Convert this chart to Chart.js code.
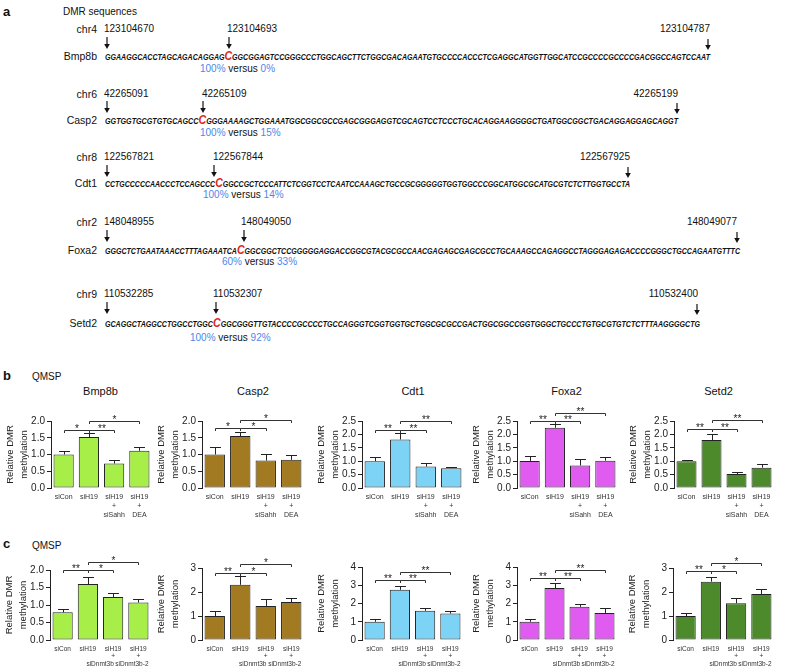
<!DOCTYPE html>
<html><head><meta charset="utf-8">
<script src="https://cdn.jsdelivr.net/npm/chart.js@4.4.1/dist/chart.umd.min.js"></script>
<style>
body{margin:0;background:#fff;width:788px;height:668px;position:relative;overflow:hidden;font-family:"Liberation Sans",Arial,sans-serif;color:#111}
.t{position:absolute;white-space:nowrap;line-height:1}
.seq{font-weight:bold;font-style:italic;font-size:9px;color:#111}
.hl{color:#e3231c;font-size:13.5px}
.blue{color:#4f86e8}
canvas{position:absolute}
</style></head><body>
<script>
// ---------- panel a : DMR sequences ----------
const seqChr   = ['chr4','chr6','chr8','chr2','chr9'];
const seqGene  = ['Bmp8b','Casp2','Cdt1','Foxa2','Setd2'];
const seqStart = ['123104670','42265091','122567821','148048955','110532285'];
const seqMid   = ['123104693','42265109','122567844','148049050','110532307'];
const seqEnd   = ['123104787','42265199','122567925','148049077','110532400'];
const seqBefore = ['GGAAGGCACCTAGCAGACAGGAG','GGTGGTGCGTGTGCAGCC','CCTGCCCCCAACCCTCCAGCCC','GGGCTCTGAATAAACCTTTAGAAATCA','GCAGGCTAGGCCTGGCCTGGC'];
const seqAfter = [
 'GGCGGAGTCCGGGCCCTGGCAGCTTCTGGCGACAGAATGTGCCCCACCCTCGAGGCATGGTTGGCATCCGCCCCGCCCCGACGGCCAGTCCAAT',
 'GGGAAAAGCTGGAAATGGCGGCGCCGAGCGGGAGGTCGCAGTCCTCCCTGCACAGGAAGGGGCTGATGGCGGCTGACAGGAGGAGCAGGT',
 'GGCCGCTCCCATTCTCGGTCCTCAATCCAAAGCTGCCGCGGGGGTGGTGGCCCGGCATGGCGCATGCGTCTCTTGGTGCCTA',
 'GGCGGCTCCGGGGGAGGACCGGCGTACGCGCCAACGAGAGCGAGCGCCTGCAAAGCCAGAGGCCTAGGGAGAGACCCCGGGCTGCCAGAATGTTTC',
 'GGCGGGTTGTACCCCGCCCCTGCCAGGGTCGGTGGTGCTGGCGCGCCGACTGGCGGCCGGTGGGCTGCCCTGTGCGTGTCTCTTTAAGGGGCTG'];
const pctHigh = ['100%','100%','100%','60%','100%'];
const pctLow  = ['0%','15%','14%','33%','92%'];

// ---------- panels b / c : QMSP ----------
const genes = ['Bmp8b','Casp2','Cdt1','Foxa2','Setd2'];
const groupsB = ['siCon','siH19',['siH19','+','siSahh'],['siH19','+','DEA']];
const groupsC = ['siCon','siH19',['siH19','+','siDnmt3b'],['siH19','+','siDnmt3b-2']];

const bmp8bB = [1.00, 1.52, 0.73, 1.11];  const bmp8bBErr = [0.11, 0.12, 0.10, 0.11];
const casp2B = [1.00, 1.55, 0.82, 0.84];  const casp2BErr = [0.22, 0.13, 0.19, 0.14];
const cdt1B  = [1.00, 1.81, 0.80, 0.74];  const cdt1BErr  = [0.15, 0.25, 0.12, 0.05];
const foxa2B = [1.01, 2.25, 0.84, 1.02];  const foxa2BErr = [0.18, 0.13, 0.23, 0.13];
const setd2B = [1.00, 1.79, 0.52, 0.76];  const setd2BErr = [0.06, 0.23, 0.06, 0.14];

const bmp8bC = [0.79, 1.60, 1.23, 1.07];  const bmp8bCErr = [0.11, 0.19, 0.11, 0.10];
const casp2C = [1.00, 2.30, 1.42, 1.58];  const casp2CErr = [0.22, 0.37, 0.28, 0.19];
const cdt1C  = [1.00, 2.75, 1.60, 1.45];  const cdt1CErr  = [0.15, 0.22, 0.15, 0.12];
const foxa2C = [1.00, 2.85, 1.82, 1.48];  const foxa2CErr = [0.17, 0.27, 0.15, 0.25];
const setd2C = [1.00, 2.43, 1.53, 1.92];  const setd2CErr = [0.11, 0.20, 0.23, 0.19];

// significance comparisons: [group a, group b, label, tier]
const sigBmp8bB = [[0,1,'*',0],[1,2,'**',0],[1,3,'*',1]];
const sigCasp2B = [[0,1,'*',0],[1,2,'*',0],[1,3,'*',1]];
const sigCdt1B  = [[0,1,'**',0],[1,2,'**',0],[1,3,'**',1]];
const sigFoxa2B = [[0,1,'**',0],[1,2,'**',0],[1,3,'**',1]];
const sigSetd2B = [[0,1,'**',0],[1,2,'**',0],[1,3,'**',1]];
const sigBmp8bC = [[0,1,'**',0],[1,2,'*',0],[1,3,'*',1]];
const sigCasp2C = [[0,1,'**',0],[1,2,'*',0],[1,3,'*',1]];
const sigCdt1C  = [[0,1,'**',0],[1,2,'**',0],[1,3,'**',1]];
const sigFoxa2C = [[0,1,'**',0],[1,2,'**',0],[1,3,'**',1]];
const sigSetd2C = [[0,1,'**',0],[1,2,'*',0],[1,3,'*',1]];

const geneColors = ['#a8ee48','#a27a22','#7dd3f5','#e05cf0','#4d8a2c'];
const FONT = '"Liberation Sans", Arial, sans-serif';

// ---------- helpers ----------
function txt(x, y, html, opt = {}) {
  const d = document.createElement('div');
  d.className = 't' + (opt.cls ? ' ' + opt.cls : '');
  d.innerHTML = html;
  d.style.left = x + 'px'; d.style.top = y + 'px';
  d.style.fontSize = (opt.size || 10) + 'px';
  if (opt.bold) d.style.fontWeight = 'bold';
  let tr = 'translateY(-50%)';
  if (opt.align === 'right') tr = 'translate(-100%,-50%)';
  else if (opt.align === 'center') tr = 'translate(-50%,-50%)';
  d.style.transform = tr;
  document.body.appendChild(d);
  return d;
}
function seqLine(x0, x1, yc, before, after) {
  const d = document.createElement('div');
  d.className = 't seq';
  d.style.left = x0 + 'px'; d.style.top = yc + 'px';
  const a = document.createElement('span'); a.textContent = before;
  const c = document.createElement('span'); c.className = 'hl'; c.textContent = 'C';
  const b = document.createElement('span'); b.textContent = after;
  d.append(a, c, b);
  document.body.appendChild(d);
  const w = d.getBoundingClientRect().width;
  d.style.transformOrigin = '0 50%';
  d.style.transform = 'translateY(-50%) scaleX(' + ((x1 - x0) / w) + ')';
}

// ---------- panel a layout ----------
const rowLay = [
 {cy:29,  ay:[37,49],   sy:56,  py:69,  midX:227, midA:229, endR:710, endA:708, sx1:710, px:200},
 {cy:94,  ay:[101,113], sy:120, py:133, midX:202, midA:203, endR:678, endA:677, sx1:678, px:200},
 {cy:157, ay:[165,177], sy:183, py:195, midX:213, midA:214, endR:630, endA:628, sx1:630, px:203},
 {cy:222, ay:[230,242], sy:250, py:262, midX:241, midA:244, endR:737, endA:737, sx1:740, px:222},
 {cy:294, ay:[302,314], sy:323, py:338, midX:213, midA:216, endR:698, endA:697, sx1:700, px:190}
];
txt(3, 11, 'a', {size:13, bold:true});
txt(63, 12, 'DMR sequences', {size:10});
let svg = '<svg width="788" height="668" style="position:absolute;left:0;top:0">';
function arrow(x, y1, y2) {
  return `<line x1="${x}" y1="${y1}" x2="${x}" y2="${y2-4}" stroke="#111" stroke-width="1.2"/>` +
         `<polygon points="${x-2.8},${y2-5} ${x+2.8},${y2-5} ${x},${y2}" fill="#111"/>`;
}
rowLay.forEach((L, i) => {
  txt(97, L.cy, seqChr[i], {size:10.5, align:'right'});
  txt(104, L.cy, seqStart[i], {size:10});
  txt(L.midX, L.cy, seqMid[i], {size:10});
  txt(L.endR, L.cy, seqEnd[i], {size:10, align:'right'});
  txt(97, L.sy, seqGene[i], {size:10.5, align:'right'});
  seqLine(105, L.sx1, L.sy, seqBefore[i], seqAfter[i]);
  txt(L.px, L.py, `<span class="blue">${pctHigh[i]}</span> versus <span class="blue">${pctLow[i]}</span>`, {size:10});
  svg += arrow(107, L.ay[0], L.ay[1]) + arrow(L.midA, L.ay[0], L.ay[1]) + arrow(L.endA, L.ay[0] + 2, L.ay[1] + 1);
});
svg += '</svg>';
document.body.insertAdjacentHTML('beforeend', svg);

// ---------- plugins ----------
const errPlugin = {
  id: 'errbars',
  afterDatasetsDraw(chart) {
    const ctx = chart.ctx, ds = chart.data.datasets[0], meta = chart.getDatasetMeta(0), y = chart.scales.y;
    ctx.save(); ctx.strokeStyle = '#222'; ctx.lineWidth = 1;
    meta.data.forEach((bar, i) => {
      const top = Math.round(y.getPixelForValue(ds.data[i] + ds.errs[i])) + 0.5;
      const x = Math.round(bar.x) + 0.5, half = bar.width * 0.27;
      ctx.beginPath();
      ctx.moveTo(x, bar.y); ctx.lineTo(x, top);
      ctx.moveTo(x - half, top); ctx.lineTo(x + half, top);
      ctx.stroke();
    });
    ctx.restore();
  }
};
const sigPlugin = {
  id: 'sig',
  afterDatasetsDraw(chart, args, opts) {
    const ctx = chart.ctx, xs = chart.scales.x, ys = chart.scales.y;
    ctx.save(); ctx.strokeStyle = '#333'; ctx.fillStyle = '#222'; ctx.lineWidth = 1;
    ctx.font = '10px ' + FONT; ctx.textAlign = 'center'; ctx.textBaseline = 'alphabetic';
    opts.items.forEach(([a, b, label, tier]) => {
      const yy = Math.round(ys.getPixelForValue(opts.tiers[tier])) + 0.5;
      const xa = Math.round(xs.getPixelForValue(a)) + 0.5, xb = Math.round(xs.getPixelForValue(b)) + 0.5;
      ctx.beginPath();
      ctx.moveTo(xa, yy + 2.5); ctx.lineTo(xa, yy); ctx.lineTo(xb, yy); ctx.lineTo(xb, yy + 2.5);
      ctx.stroke();
      ctx.fillText(label, (xa + xb) / 2, yy + 1.5);
    });
    ctx.restore();
  }
};

function makeBar(c) {
  const axisW = 52, padR = 24, padT = 34, xH = 42;
  const cl = c.left - axisW, cw = c.right + padR - cl, ct = c.top - padT, ch = c.bottom + xH - ct;
  const cv = document.createElement('canvas');
  cv.width = cw; cv.height = ch;
  cv.style.left = cl + 'px'; cv.style.top = ct + 'px';
  document.body.appendChild(cv);
  new Chart(cv, {
    type: 'bar',
    data: { labels: c.labels, datasets: [{ data: c.values, errs: c.errs, backgroundColor: c.color,
      borderColor: '#222', borderWidth: 1, borderSkipped: false, barPercentage: 0.8, categoryPercentage: 1 }] },
    options: {
      responsive: false, animation: false, devicePixelRatio: 1,
      layout: { padding: { left: 0, right: padR, top: padT, bottom: 0 } },
      plugins: { legend: { display: false }, tooltip: { enabled: false }, title: { display: false },
        sig: { items: c.sig, tiers: c.tiers } },
      scales: {
        x: { offset: true, grid: { display: false, drawTicks: false }, border: { display: false },
          ticks: { color: '#333', font: { family: FONT, size: c.xFont, lineHeight: c.xLine }, padding: c.xPad,
            maxRotation: 0, minRotation: 0, autoSkip: false,
            callback: function (v, i) {
              const l = this.getLabelForValue(v);
              if (Array.isArray(l) && c.shift && c.shift[i]) return l.map((s, k) => k === 2 ? s + '\u2002'.repeat(c.shift[i]) : s);
              return l;
            } },
          afterFit(s) { s.height = xH; } },
        y: { min: 0, max: c.yMax,
          grid: { display: true, drawOnChartArea: false, drawTicks: true, tickLength: 4, color: '#222' },
          border: { display: true, color: '#222', width: 1 },
          ticks: { stepSize: c.step, autoSkip: false, maxTicksLimit: 20, color: '#222',
            font: { family: FONT, size: 10, lineHeight: 0.8 }, padding: 2,
            callback: v => c.step < 1 ? v.toFixed(1) : String(v) },
          title: { display: true, text: ['Relative DMR', 'methylation'], color: '#222',
            font: { family: FONT, size: 9.5, lineHeight: 1.5 }, padding: { top: 4, bottom: 0 } },
          afterFit(s) { s.width = axisW; } }
      }
    },
    plugins: [errPlugin, sigPlugin]
  });
}

// ---------- panel b ----------
txt(3, 375, 'b', {size:13, bold:true});
txt(32, 377, 'QMSP', {size:10});
const xB = [[51,152],[202,304],[362,464],[517,618],[674,774]];
const titleX = [100.5, 253, 413, 566.5, 718.5];
genes.forEach((g, i) => txt(titleX[i], 391, g, {size:11, align:'center'}));
const bVals = [bmp8bB, casp2B, cdt1B, foxa2B, setd2B];
const bErrs = [bmp8bBErr, casp2BErr, cdt1BErr, foxa2BErr, setd2BErr];
const bSig = [sigBmp8bB, sigCasp2B, sigCdt1B, sigFoxa2B, sigSetd2B];
const bMax = [2, 2, 2.5, 2.5, 2.5];
const bTiers = [[1.73, 2.0], [1.78, 2.02], [2.16, 2.5], [2.5, 2.78], [2.22, 2.53]];
for (let i = 0; i < 5; i++) {
  makeBar({ left: xB[i][0], right: xB[i][1], top: 421, bottom: 488, labels: groupsB,
    values: bVals[i], errs: bErrs[i], color: geneColors[i], yMax: bMax[i], step: 0.5,
    sig: bSig[i], tiers: bTiers[i], xFont: 7, xLine: 1.25, xPad: 5 });
}

// ---------- panel c ----------
txt(3, 543, 'c', {size:13, bold:true});
txt(32, 546, 'QMSP', {size:10});
const xC = [[50,151],[202,304],[362,463],[517,617],[673,774]];
const cTop = [570, 567.5, 566.5, 566.5, 567.5];
const cVals = [bmp8bC, casp2C, cdt1C, foxa2C, setd2C];
const cErrs = [bmp8bCErr, casp2CErr, cdt1CErr, foxa2CErr, setd2CErr];
const cSig = [sigBmp8bC, sigCasp2C, sigCdt1C, sigFoxa2C, sigSetd2C];
const cMax = [2, 3, 4, 4, 3];
const cStep = [0.5, 1, 1, 1, 1];
const cTiers = [[2.0, 2.22], [2.8, 3.17], [3.28, 3.73], [3.41, 3.86], [2.88, 3.2]];
for (let i = 0; i < 5; i++) {
  makeBar({ left: xC[i][0], right: xC[i][1], top: cTop[i], bottom: 640, labels: groupsC,
    values: cVals[i], errs: cErrs[i], color: geneColors[i], yMax: cMax[i], step: cStep[i],
    sig: cSig[i], tiers: cTiers[i], xFont: 6.5, xLine: 1.2, xPad: 5, shift: [0, 0, 8, 4] });
}
</script>
</body></html>
